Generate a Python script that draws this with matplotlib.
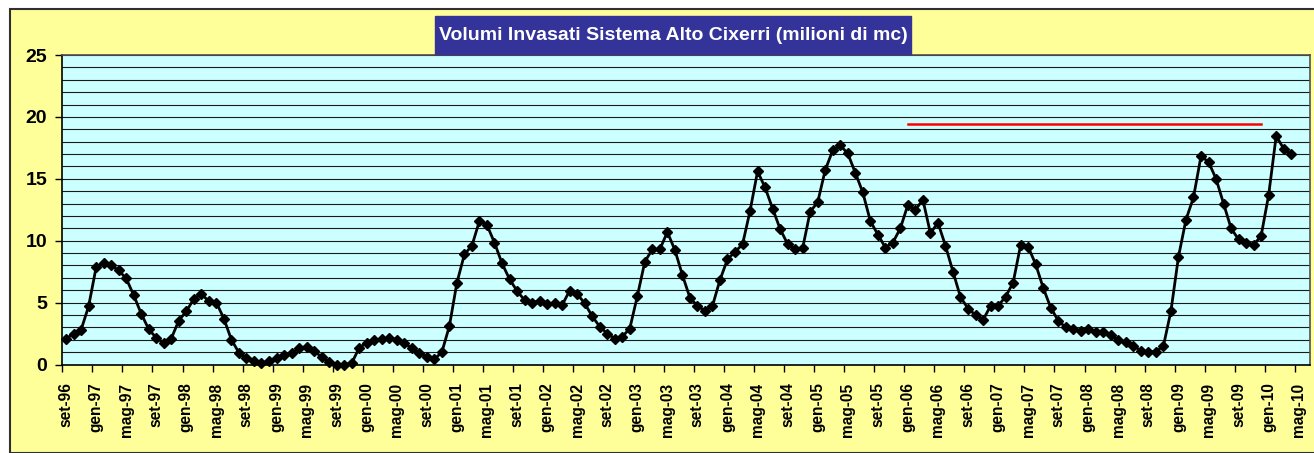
import matplotlib.pyplot as plt
import numpy as np
from matplotlib.patches import Rectangle
from matplotlib.ticker import FixedLocator, MultipleLocator

plt.rcParams['font.family'] = ['Liberation Sans', 'DejaVu Sans']

# Monthly stored volumes (million m3), from set-96 to apr-10
volumi = [2.1, 2.45, 2.8, 4.7, 7.85, 8.2, 8.0, 7.6, 6.95, 5.6, 4.1, 2.85,
          2.15, 1.75, 2.1, 3.55, 4.3, 5.3, 5.7, 5.1, 5.0, 3.7, 2.0, 0.95,
          0.5, 0.3, 0.1, 0.3, 0.5, 0.75, 0.9, 1.3, 1.45, 1.1, 0.6, 0.2,
          0.0, 0.0, 0.1, 1.35, 1.75, 2.0, 2.03, 2.15, 2.0, 1.75, 1.3, 0.9,
          0.63, 0.42, 1.0, 3.1, 6.6, 8.9, 9.6, 11.6, 11.27, 9.84, 8.17, 6.9,
          5.94, 5.2, 5.0, 5.13, 4.89, 4.94, 4.8, 5.96, 5.7, 4.94, 3.9, 3.06,
          2.5, 2.1, 2.25, 2.9, 5.5, 8.3, 9.3, 9.3, 10.7, 9.25, 7.23, 5.4,
          4.73, 4.35, 4.73, 6.83, 8.5, 9.1, 9.7, 12.4, 15.6, 14.3, 12.6, 10.95,
          9.73, 9.33, 9.4, 12.35, 13.1, 15.7, 17.3, 17.7, 17.05, 15.5, 13.9, 11.6,
          10.5, 9.45, 9.85, 11.0, 12.9, 12.5, 13.3, 10.6, 11.45, 9.6, 7.5, 5.45,
          4.52, 4.0, 3.6, 4.73, 4.73, 5.48, 6.6, 9.65, 9.5, 8.1, 6.2, 4.6,
          3.54, 3.0, 2.84, 2.73, 2.84, 2.63, 2.63, 2.35, 1.98, 1.79, 1.5, 1.12,
          1.04, 1.04, 1.5, 4.32, 8.7, 11.7, 13.5, 16.84, 16.36, 15.0, 13.0, 11.0,
          10.1, 9.8, 9.65, 10.4, 13.7, 18.46, 17.43, 17.0]

# Reference level (red line), from gen-06 to dic-09
soglia_inizio = 112
soglia = [19.4] * 48

etichette = ['set-96', 'gen-97', 'mag-97', 'set-97', 'gen-98', 'mag-98',
             'set-98', 'gen-99', 'mag-99', 'set-99', 'gen-00', 'mag-00',
             'set-00', 'gen-01', 'mag-01', 'set-01', 'gen-02', 'mag-02',
             'set-02', 'gen-03', 'mag-03', 'set-03', 'gen-04', 'mag-04',
             'set-04', 'gen-05', 'mag-05', 'set-05', 'gen-06', 'mag-06',
             'set-06', 'gen-07', 'mag-07', 'set-07', 'gen-08', 'mag-08',
             'set-08', 'gen-09', 'mag-09', 'set-09', 'gen-10', 'mag-10']
n_mesi = 166  # set-96 ... giu-10 categories on the axis

titolo = 'Volumi Invasati Sistema Alto Cixerri (milioni di mc)'

W, H = 1314, 453
fig = plt.figure(figsize=(W / 100, H / 100), dpi=100, facecolor='white')

# yellow chart area with border
fig.patches.append(Rectangle((10 / W, 0), 1.0, 1 - 9 / H, transform=fig.transFigure,
                             facecolor='#FFFF99', edgecolor='#303030', lw=1.5, zorder=0))

ax = fig.add_axes([62.3 / W, (H - 364.5) / H, (1310 - 62.3) / W, (364.5 - 55) / H])
ax.set_zorder(1)
ax.set_facecolor('#CCFFFF')

x = np.arange(len(volumi))
ax.plot(x, volumi, '-', color='black', lw=2.0, marker='D', markersize=5.2,
        markerfacecolor='black', markeredgecolor='black', zorder=3, clip_on=False)

xs = np.arange(soglia_inizio, soglia_inizio + len(soglia))
ax.plot(xs, soglia, '-', color='#FF0000', lw=1.8, zorder=3)

ax.set_xlim(-0.5, n_mesi - 0.5)
ax.set_ylim(0, 25)

# y axis
ax.yaxis.set_major_locator(MultipleLocator(5))
ax.yaxis.set_minor_locator(MultipleLocator(1))
ax.grid(axis='y', which='both', color='#1a1a1a', lw=0.8)
ax.set_axisbelow(True)
ax.tick_params(axis='y', which='major', length=5, width=1, direction='out',
               labelsize=14, pad=6)
ax.tick_params(axis='y', which='minor', length=0)
for t in ax.get_yticklabels():
    t.set_fontweight('bold')

# x axis: labels at category centres, tick marks at boundaries
ax.xaxis.set_major_locator(FixedLocator(np.arange(0, 4 * len(etichette), 4)))
ax.set_xticklabels(etichette, rotation=90, fontsize=11.2, fontweight='bold')
ax.xaxis.set_minor_locator(FixedLocator(np.arange(0, 4 * len(etichette), 4) - 0.5))
ax.tick_params(axis='x', which='major', length=0, pad=13)
ax.tick_params(axis='x', which='minor', length=5, width=1, direction='out')

for side in ['left', 'bottom']:
    ax.spines[side].set_color('black')
    ax.spines[side].set_linewidth(1.2)
for side in ['top', 'right']:
    ax.spines[side].set_color('#505050')
    ax.spines[side].set_linewidth(1.2)

# title box
fig.patches.append(Rectangle((435 / W, 1 - 54 / H), (911 - 435) / W, 38 / H,
                             transform=fig.transFigure, facecolor='#333399',
                             edgecolor='#333399', zorder=2))
fig.text(673 / W, 1 - 35 / H, titolo, color='white', fontsize=14,
         fontweight='bold', ha='center', va='center', zorder=4)

fig.savefig('out.png', dpi=100, facecolor='white')
